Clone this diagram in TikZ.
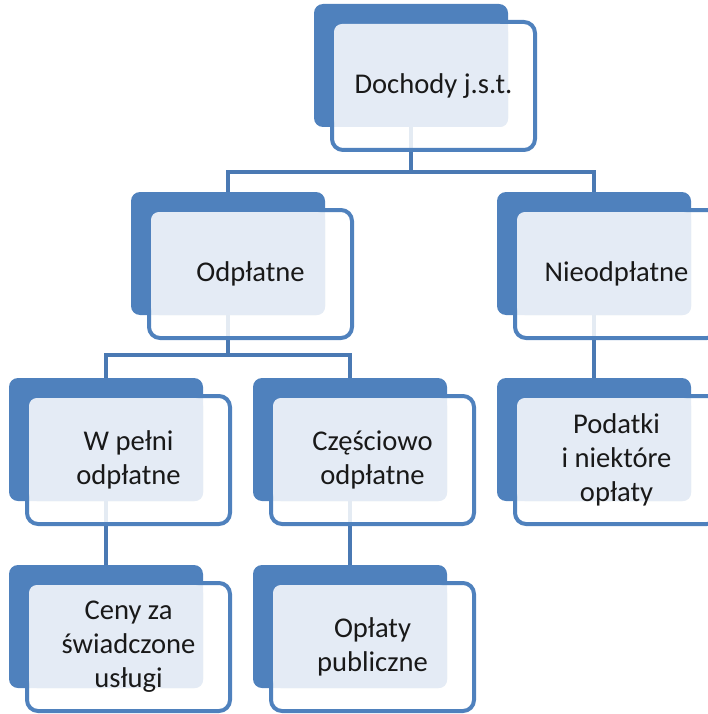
\documentclass[tikz,border=0pt]{standalone}
\usepackage{fontspec}
\setmainfont{Carlito}
\definecolor{accent}{HTML}{4F81BD}
\definecolor{lightfill}{HTML}{E4EBF5}
\definecolor{connblue}{HTML}{4A79B3}
\newcommand\smartback[3]{\node[backbox] (#1b) at (#2,#3) {};}
\newcommand\smartfront[4]{%
  \node[frontbox] (#1f) at (#2+18,#3+18) {};
  \node[lightbox] (#1l) at (#2+20,#3+20) {};
  \node[boxlabel] (#1t) at (#1f.center) {#4};}
\begin{document}
\begin{tikzpicture}[x=1pt,y=-1pt,
  backbox/.style={rectangle,rounded corners=9pt,fill=accent,minimum width=194pt,minimum height=123pt,anchor=north west,inner sep=0pt,outer sep=0pt},
  frontbox/.style={rectangle,rounded corners=11pt,draw=accent,line width=4pt,fill=white,fill opacity=0.85,minimum width=203pt,minimum height=128pt,anchor=north west,inner sep=0pt,outer sep=0pt},
  lightbox/.style={rectangle,rounded corners=8pt,fill=lightfill,minimum width=174pt,minimum height=103pt,anchor=north west,inner sep=0pt,outer sep=0pt},
  boxlabel/.style={font=\fontsize{28.6}{34}\selectfont,align=center,text=black!90,inner sep=0pt},
  conn/.style={draw=connblue,line width=4pt}]
\useasboundingbox (0,0) rectangle (708,714);
% back boxes
\smartback{n1}{314}{4}
\smartback{n2}{131}{192}
\smartback{n3}{497}{192}
\smartback{n4}{9}{378}
\smartback{n5}{253}{378}
\smartback{n6}{497}{378}
\smartback{n7}{9}{565}
\smartback{n8}{253}{565}
% connectors
\draw[conn] (n1b.south) -- (n1b.south |- 0,172) -| (n2b.north);
\draw[conn] (n1b.south |- 0,172) -| (n3b.north);
\draw[conn] (n2b.south) -- (n2b.south |- 0,355) -| (n4b.north);
\draw[conn] (n2b.south |- 0,355) -| (n5b.north);
\draw[conn] (n3b.south) -- (n6b.north);
\draw[conn] (n4b.south) -- (n7b.north);
\draw[conn] (n5b.south) -- (n8b.north);
% front boxes and labels
\smartfront{n1}{314}{4}{Dochody j.s.t.}
\smartfront{n2}{131}{192}{Odpłatne}
\smartfront{n3}{497}{192}{Nieodpłatne}
\smartfront{n4}{9}{378}{W pełni\\odpłatne}
\smartfront{n5}{253}{378}{Częściowo\\odpłatne}
\smartfront{n6}{497}{378}{Podatki\\i niektóre\\opłaty}
\smartfront{n7}{9}{565}{Ceny za\\świadczone\\usługi}
\smartfront{n8}{253}{565}{Opłaty\\publiczne}
\end{tikzpicture}
\end{document}
